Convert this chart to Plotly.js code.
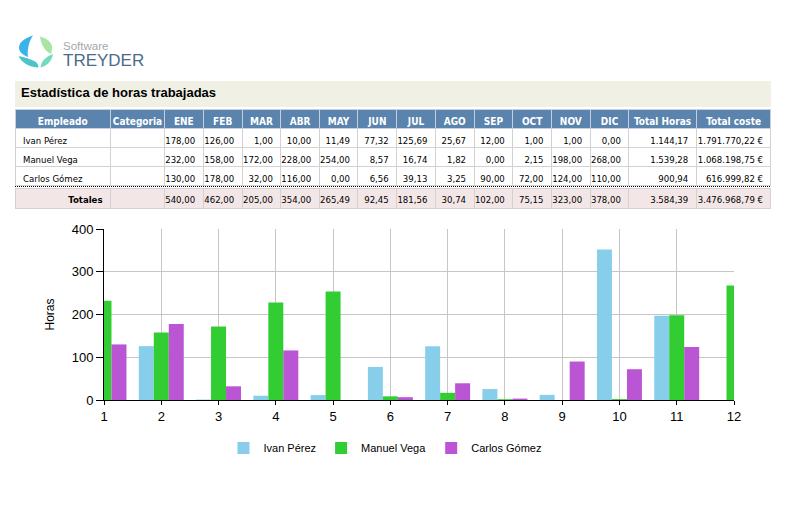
<!DOCTYPE html>
<html><head><meta charset="utf-8">
<script src="https://cdn.plot.ly/plotly-3.0.1.min.js"></script>
<style>html,body{margin:0;padding:0;background:#fff}</style>
</head><body>
<div id="chart" style="width:785px;height:505px"></div>
<script>
// ---------- data ----------
const monthLabels = ['ENE','FEB','MAR','ABR','MAY','JUN','JUL','AGO','SEP','OCT','NOV','DIC'];
const employees = ['Ivan Pérez','Manuel Vega','Carlos Gómez'];
const ivanHours   = [178,126,1,10,11.49,77.32,125.69,25.67,12,1,1,0];
const manuelHours = [232,158,172,228,254,8.57,16.74,1.82,0,2.15,198,268];
const carlosHours = [130,178,32,116,0,6.56,39.13,3.25,90,72,124,110];
const employeeTotalHours = [1144.17,1539.28,900.94];
const employeeTotalCost  = [1791770.22,1068198.75,616999.82];
const monthTotals = [540,462,205,354,265.49,92.45,181.56,30.74,102,75.15,323,378];
const grandTotalHours = 3584.39;
const grandTotalCost = 3476968.79;
// series as plotted in the chart
const monthNumbers = [1,2,3,4,5,6,7,8,9,10,11,12];
const chartIvan   = [178,126,1,10,11.49,77.32,125.69,25.67,12,352,197,0];
const chartManuel = [232,158,172,228,254,8.57,16.74,1.82,0,2.15,198,268];
const chartCarlos = [130,178,32,116,0,6.56,39.13,3.25,90,72,124,110];
const seriesColors = ['#87CEEB','#32CD32','#BA55D3'];

// ---------- helpers ----------
const W = 785, H = 505;
const px = x => x / W;
const py = y => 1 - y / H;
const NB = '\u00a0';
function fmtEs(v){
  const p = v.toFixed(2).split('.');
  p[0] = p[0].replace(/\B(?=(\d{3})+(?!\d))/g, '.');
  return p[0] + ',' + p[1];
}
function P(str){
  return str.replace(/(-?\d+\.?\d*),(-?\d+\.?\d*)/g,
    (m,a,b) => px(+a).toFixed(5) + ',' + py(+b).toFixed(5));
}

const tableFont = 'DejaVu Sans Condensed, Liberation Sans, Arial, sans-serif';
const chartFont = 'Liberation Sans, Arial, sans-serif';

// ---------- table ----------
const headerVals = ['Empleado','Categoria'].concat(monthLabels, ['Total'+NB+'Horas','Total'+NB+'coste']);
const perEmp = [ivanHours, manuelHours, carlosHours];
const cellCols = [employees.map(e => e.replace(/ /g, NB)), employees.map(() => '')];
monthLabels.forEach((m, i) => cellCols.push(perEmp.map(r => fmtEs(r[i]))));
cellCols.push(employeeTotalHours.map(fmtEs));
cellCols.push(employeeTotalCost.map(v => fmtEs(v) + NB + '€'));

const colWidths = [95.4,54,38.6,39,38.7,38.3,38.7,38.7,38.6,38.7,38.7,38.6,38.7,38.7,67.3,74.7];
const alignCells = ['left','left'].concat(Array(14).fill('right'));

const totalsVals = ['Totales',''].concat(monthTotals.map(fmtEs), [fmtEs(grandTotalHours), fmtEs(grandTotalCost) + NB + '€']);

const traces = [];
traces.push({
  type: 'table',
  domain: {x: [px(15), px(771)], y: [py(205), py(109.5)]},
  columnwidth: colWidths,
  header: {
    values: headerVals,
    align: 'center',
    height: 19,
    fill: {color: '#5a83ad'},
    line: {color: '#c5d0dc', width: 1},
    font: {family: tableFont, size: 10, color: '#ffffff', weight: 'bold'}
  },
  cells: {
    values: cellCols,
    align: alignCells,
    height: 19,
    fill: {color: '#ffffff'},
    line: {color: '#d2d2d2', width: 1},
    font: {family: tableFont, size: 9.5, color: '#000000'}
  }
});
traces.push({
  type: 'table',
  domain: {x: [px(15), px(771)], y: [py(215), py(188)]},
  columnwidth: colWidths,
  header: {
    values: totalsVals,
    align: 'right',
    height: 20,
    fill: {color: '#f3e6e6'},
    line: {color: '#d2d2d2', width: 1},
    font: {family: tableFont, size: 9.5, color: '#000000', weight: ['bold'].concat(Array(15).fill('normal'))}
  },
  cells: {values: []}
});

// ---------- bars ----------
const chartSeries = [chartIvan, chartManuel, chartCarlos];
chartSeries.forEach((vals, i) => {
  traces.push({
    type: 'bar', name: employees[i], x: monthNumbers, y: vals,
    marker: {color: seriesColors[i], line: {width: 0}},
    hoverinfo: 'x+y+name'
  });
});

// ---------- layout ----------
const shapes = [
  // title bar
  {type:'rect', xref:'paper', yref:'paper', x0:px(15), x1:px(771), y0:py(107), y1:py(81),
   fillcolor:'#f0f0e4', line:{width:0}, layer:'below'},
  // dotted separator above totals
  {type:'line', xref:'paper', yref:'paper', x0:px(15), x1:px(771), y0:py(186.5), y1:py(186.5),
   line:{color:'#000', width:1, dash:'1px,1px'}},
  // logo petals
  {type:'path', xref:'paper', yref:'paper', path: P('M 33,35.5 C 25,38 19,42 19,48 C 19,52 23,55 28,57 C 27,50 29,41 33,35.5 Z'),
   fillcolor:'#3ab3ea', line:{width:0}},
  {type:'path', xref:'paper', yref:'paper', path: P('M 40,36.5 C 46,38 52,42 52,47 C 52,50 51.5,52 51,54 C 45,51 41,45 40,36.5 Z'),
   fillcolor:'#a8e4a2', line:{width:0}},
  {type:'path', xref:'paper', yref:'paper', path: P('M 18.5,56 C 24,57 31,59 36,62 C 37.5,63.5 38.5,65.5 38.5,67.5 C 29,67 22,63 18.5,56 Z'),
   fillcolor:'#4cc5c9', line:{width:0}},
  {type:'path', xref:'paper', yref:'paper', path: P('M 53,54 C 52,61 47,66 40.5,67.5 C 41,62 45,57 53,54 Z'),
   fillcolor:'#73dbbd', line:{width:0}}
];

const annotations = [
  {xref:'paper', yref:'paper', x:px(61), y:py(46), xanchor:'left', yanchor:'middle', showarrow:false,
   text:'Software', font:{family:chartFont, size:11.5, color:'#a3a9ae'}},
  {xref:'paper', yref:'paper', x:px(61), y:py(60.5), xanchor:'left', yanchor:'middle', showarrow:false,
   text:'TREYDER', font:{family:chartFont, size:17, color:'#4c6b8a'}},
  {xref:'paper', yref:'paper', x:px(19), y:py(93), xanchor:'left', yanchor:'middle', showarrow:false,
   text:'Estadística de horas trabajadas', font:{family:chartFont, size:13, color:'#000', weight:'bold'}}
];

const layout = {
  width: W, height: H,
  margin: {l:0, r:0, t:0, b:0},
  paper_bgcolor: '#ffffff', plot_bgcolor: '#ffffff',
  font: {family: chartFont, color: '#000'},
  barmode: 'group', bargap: 0.215, bargroupgap: 0,
  showlegend: true,
  legend: {orientation:'h', xref:'paper', yref:'paper', x: px(385), xanchor:'center', y: py(448), yanchor:'middle',
           font:{family:chartFont, size:11, color:'#000'}, bgcolor:'rgba(0,0,0,0)'},
  xaxis: {
    domain: [px(104), px(734)], range: [1, 12], tickvals: monthNumbers, ticktext: monthNumbers.map(String),
    showgrid: true, gridcolor: '#c6c6c6', gridwidth: 1, zeroline: false,
    showline: true, linecolor: '#000', linewidth: 1,
    ticks: 'outside', ticklen: 4, tickcolor: '#000',
    tickfont: {family: chartFont, size: 13, color: '#000'}, fixedrange: true
  },
  yaxis: {
    domain: [py(400), py(229)], range: [0, 400], tickvals: [0,100,200,300,400],
    showgrid: true, gridcolor: '#c6c6c6', gridwidth: 1, zeroline: false,
    showline: true, linecolor: '#000', linewidth: 1,
    ticks: 'outside', ticklen: 7, tickcolor: '#000',
    tickfont: {family: chartFont, size: 13, color: '#000'},
    title: {text: 'Horas', font: {family: chartFont, size: 12, color: '#000'}, standoff: 14},
    fixedrange: true
  },
  shapes: shapes,
  annotations: annotations
};

Plotly.newPlot('chart', traces, layout, {displayModeBar: false, staticPlot: true});
</script>
</body></html>
